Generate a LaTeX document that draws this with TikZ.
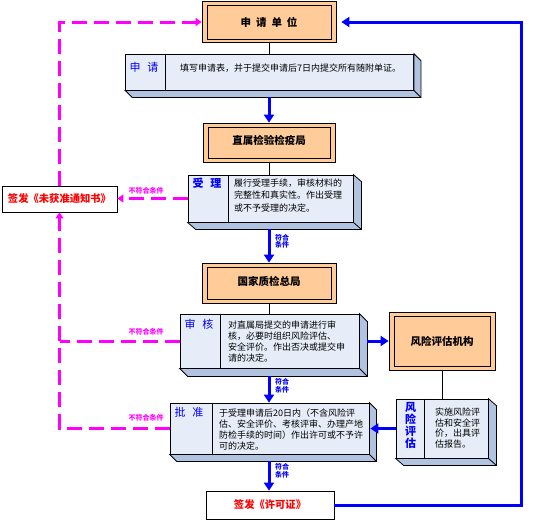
\documentclass[tikz,border=0pt]{standalone}
\usepackage{fontspec}
\setmainfont{Noto Sans CJK SC}
\usetikzlibrary{arrows.meta,calc}
\definecolor{peach}{HTML}{FFCC99}
\definecolor{frontc}{HTML}{E6EDF8}
\definecolor{depthc}{HTML}{B0C4E2}
\definecolor{flowblue}{HTML}{0000FF}
\definecolor{rejmag}{HTML}{FF00FF}
\definecolor{outred}{HTML}{FF0000}
\tikzset{
 orgbox/.style={draw, fill=peach, line width=0.8pt, inner sep=0pt, font=\fontsize{10.5}{12}\selectfont\bfseries},
 frontbox/.style={draw, fill=frontc, line width=0.8pt, inner sep=0pt},
 outbox/.style={draw, fill=white, line width=0.8pt, inner sep=0pt, text=outred, font=\fontsize{10.3}{12}\selectfont\bfseries},
 bodytext/.style={inner sep=0pt, align=left, font=\fontsize{9}{11}\selectfont},
 steplabel/.style={inner sep=0pt, text=flowblue, font=\fontsize{11}{12}\selectfont},
 yesarrow/.style={draw=flowblue, line width=3pt, -{Triangle[length=8pt,width=10pt]}},
 noarrow/.style={draw=rejmag, line width=3pt, dash pattern=on 15pt off 7pt, -{Triangle[length=6pt,width=8pt]}},
 noline/.style={draw=rejmag, line width=3pt, dash pattern=on 15pt off 7pt},
 link/.style={draw, line width=0.8pt},
 nolabel/.style={inner sep=0pt, text=rejmag, font=\fontsize{7}{8}\selectfont\bfseries},
 yeslabel/.style={inner sep=0pt, text=flowblue, align=center, font=\fontsize{7}{7.5}\selectfont\bfseries},
}
\newcommand\mydepth[3]{%
  \filldraw[fill=depthc, line width=0.8pt] (#1.south west) -- ++(#2,#3) -- ($(#1.south east)+(#2,#3)$) -- ($(#1.north east)+(#2,#3)$) -- (#1.north east) -- (#1.south east) -- cycle;
  \draw[line width=0.8pt] (#1.south east) -- ++(#2,#3);}
\newcommand\myinner[1]{%
  \draw[line width=0.8pt] ([shift={(5.5,4.5)}]#1.north west) rectangle ([shift={(-5,-4)}]#1.south east);}
\newcommand\mydivider[2]{%
  \draw[line width=0.8pt] ([xshift=#2pt]#1.north west) -- ([xshift=#2pt]#1.south west);}
\begin{document}
\begin{tikzpicture}[x=1pt,y=-1pt]
\useasboundingbox (0,0) rectangle (540,520);

% organisation boxes
\node[orgbox, minimum width=134pt, minimum height=41pt] (applicant) at (269,22) {申\hspace{5pt}请\hspace{5pt}单\hspace{5pt}位};
\myinner{applicant}
\node[orgbox, minimum width=132pt, minimum height=39pt, text depth=5pt] (bureau) at (269,142.5) {直属检验检疫局};
\myinner{bureau}
\node[orgbox, minimum width=134pt, minimum height=40pt, text depth=5pt] (national) at (269,283) {国家质检总局};
\myinner{national}
\node[orgbox, minimum width=106pt, minimum height=58pt] (agency) at (442,341) {风险评估机构};
\myinner{agency}

% 3D step boxes
\node[frontbox, minimum width=288pt, minimum height=36pt] (apply) at (269.5,72) {};
\mydepth{apply}{7}{7}
\mydivider{apply}{40.5}
\node[steplabel] (applylab) at (144,67) {申\hspace{7pt}请};
\node[bodytext, anchor=west] (applytxt) at (180,68) {填写申请表，并于提交申请后7日内提交所有随附单证。};

\node[frontbox, minimum width=165pt, minimum height=47pt] (accept) at (270.5,198.5) {};
\mydepth{accept}{8}{7}
\mydivider{accept}{41}
\node[steplabel, font=\fontsize{11}{12}\selectfont\bfseries] (acceptlab) at (207,183) {受\hspace{7pt}理};
\node[bodytext, anchor=west, font=\fontsize{9}{12.5}\selectfont] (accepttxt) at (234,195.5) {履行受理手续，审核材料的\\完整性和真实性。作出受理\\或不予受理的决定。};

\node[frontbox, minimum width=179pt, minimum height=54pt] (review) at (269.5,341) {};
\mydepth{review}{8}{8}
\mydivider{review}{41}
\node[steplabel] (reviewlab) at (199,324) {审\hspace{7pt}核};
\node[bodytext, anchor=west] (reviewtxt) at (228,341.5) {对直属局提交的申请进行审\\核，必要时组织风险评估、\\安全评价。作出否决或提交申\\请的决定。};

\node[frontbox, minimum width=199pt, minimum height=51pt] (approve) at (269.5,428.5) {};
\mydepth{approve}{7}{7}
\mydivider{approve}{43}
\node[steplabel] (approvelab) at (189,412) {批\hspace{7pt}准};
\node[bodytext, anchor=west] (approvetxt) at (219,429.5) {于受理申请后20日内（不含风险评\\估、安全评价、考核评审、办理产地\\防检手续的时间）作出许可或不予许\\可的决定。};

\node[frontbox, minimum width=92pt, minimum height=59pt] (riskeval) at (442,428.5) {};
\mydepth{riskeval}{8}{7}
\mydivider{riskeval}{29}
\node[steplabel, align=center, font=\fontsize{11}{12}\selectfont\bfseries] (risklab) at (410.5,425) {风\\险\\评\\估};
\node[bodytext, anchor=west, font=\fontsize{9}{10.7}\selectfont] (risktxt) at (435,428) {实施风险评\\估和安全评\\价，出具评\\估报告。};

% output boxes
\node[outbox, minimum width=115pt, minimum height=26pt] (notice) at (59.5,199) {签发《未获准通知书》};
\node[outbox, minimum width=128pt, minimum height=28pt] (permit) at (270,505) {签发《许可证》};

% thin links
\draw[link] (applicant.south) -- (apply.north -| applicant.south);
\draw[link] (bureau.south) -- (accept.north -| bureau.south);
\draw[link] (national.south) -- (review.north -| national.south);
\draw[link] (agency.south) -- (riskeval.north);

% blue flow
\draw[yesarrow] ($(apply.south -| bureau.north)+(0,7)$) -- (bureau.north);
\draw[yesarrow] ($(accept.south -| national.north)+(0,7)$) -- (national.north);
\draw[yesarrow] ($(review.south -| national.north)+(0,8)$) -- (approve.north -| national.north);
\draw[yesarrow] ($(approve.south -| national.north)+(0,7)$) -- (permit.north -| national.north);
\draw[yesarrow] ($(review.east)+(8,0)$) -- (agency.west);
\draw[yesarrow] (riskeval.west) -- ($(approve.east)+(1,0)$);
\draw[yesarrow] (permit.east) -- (521,505) |- ($(applicant.east)+(5,0)$);

\node[yeslabel] (yes1) at (282,241.5) {符合\\条件};
\node[yeslabel] (yes2) at (282,386) {符合\\条件};
\node[yeslabel] (yes3) at (282,471) {符合\\条件};

% magenta rejections
\draw[noarrow] (accept.west) -- (accept.west -| notice.east);
\draw[noline] (review.west) -- (review.west -| notice.south);
\draw[noarrow] (approve.west) -| (notice.south);
\draw[noarrow] (notice.north) |- (applicant.west);

\node[nolabel] (no1) at (146,191) {不符合条件};
\node[nolabel] (no2) at (146,332) {不符合条件};
\node[nolabel] (no3) at (146,418) {不符合条件};
\end{tikzpicture}
\end{document}
